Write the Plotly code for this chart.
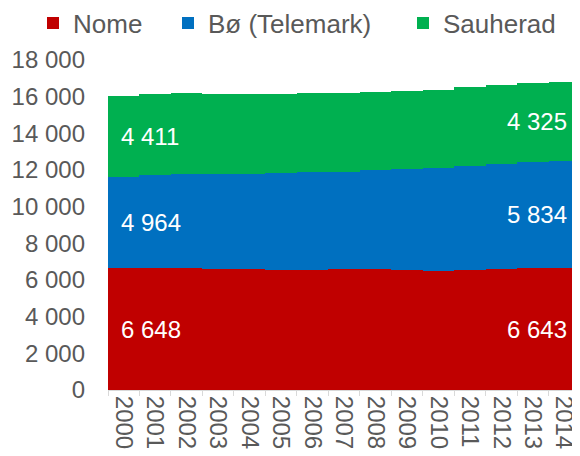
import plotly.graph_objects as go

years = [str(y) for y in range(2000, 2015)]
nome = [6648, 6650, 6650, 6600, 6615, 6565, 6565, 6615, 6615, 6565, 6510, 6565, 6600, 6640, 6643]
bo = [4964, 5060, 5150, 5200, 5150, 5270, 5325, 5285, 5405, 5505, 5600, 5635, 5710, 5780, 5834]
sauherad = [4411, 4410, 4386, 4370, 4367, 4335, 4335, 4300, 4250, 4254, 4263, 4337, 4313, 4348, 4325]

series = [("Nome", nome, "#C00000"), ("Bø (Telemark)", bo, "#0070C0"), ("Sauherad", sauherad, "#00B050")]

FONT = "Liberation Sans, Arial, sans-serif"
GREY = "#595959"
W, H = 572, 448

fig = go.Figure()
legend_ids = ["legend", "legend2", "legend3"]
for (name, vals, col), lid in zip(series, legend_ids):
    fig.add_trace(go.Bar(x=years, y=vals, name=name, marker=dict(color=col, line=dict(width=0)),
                         hoverinfo="x+y+name", legend=lid))

def fmt(v):
    return f"{v:,}".replace(",", " ")

annotations = []
base_first = 0
base_last = 0
first_idx = 0
last_idx = len(years) - 1
for name, vals, col in series:
    mid_first = base_first + vals[0] / 2
    mid_last = base_last + vals[-1] / 2
    annotations.append(dict(x=first_idx, y=mid_first, text=fmt(vals[0]), showarrow=False,
                            xanchor="left", yanchor="middle", xshift=-5,
                            font=dict(family=FONT, size=24, color="white")))
    annotations.append(dict(x=last_idx, y=mid_last, text=fmt(vals[-1]), showarrow=False,
                            xanchor="right", yanchor="middle", xshift=5,
                            font=dict(family=FONT, size=24, color="white")))
    base_first += vals[0]
    base_last += vals[-1]

legend_px = [25, 160, 395]
legend_common = dict(orientation="h", xref="container", yref="container", xanchor="left",
                     y=1 - 15 / H, yanchor="middle", font=dict(family=FONT, size=26, color=GREY),
                     bgcolor="rgba(0,0,0,0)")

fig.update_layout(
    width=W, height=H, autosize=False,
    barmode="stack", bargap=0,
    separators=", ",
    plot_bgcolor="white", paper_bgcolor="white",
    margin=dict(l=100, r=0, t=52, b=66),
    font=dict(family=FONT, size=24, color=GREY),
    legend=dict(x=legend_px[0] / W, **legend_common),
    legend2=dict(x=legend_px[1] / W, **legend_common),
    legend3=dict(x=legend_px[2] / W, **legend_common),
    annotations=annotations,
    showlegend=True,
)
fig.update_xaxes(type="category", range=[-0.5, len(years) - 0.5], tickangle=90, showline=True,
                 linecolor="#D9D9D9", ticks="outside", tickson="boundaries", ticklen=5,
                 tickcolor="#D9D9D9", showgrid=False, tickfont=dict(family=FONT, size=24, color=GREY))
fig.update_yaxes(range=[0, 18000], dtick=2000, tickformat=",", showgrid=True, gridcolor="#D9D9D9",
                 zeroline=False, showline=False, ticks="", ticklabelstandoff=22,
                 tickfont=dict(family=FONT, size=24, color=GREY))

fig.write_html("out.html")
